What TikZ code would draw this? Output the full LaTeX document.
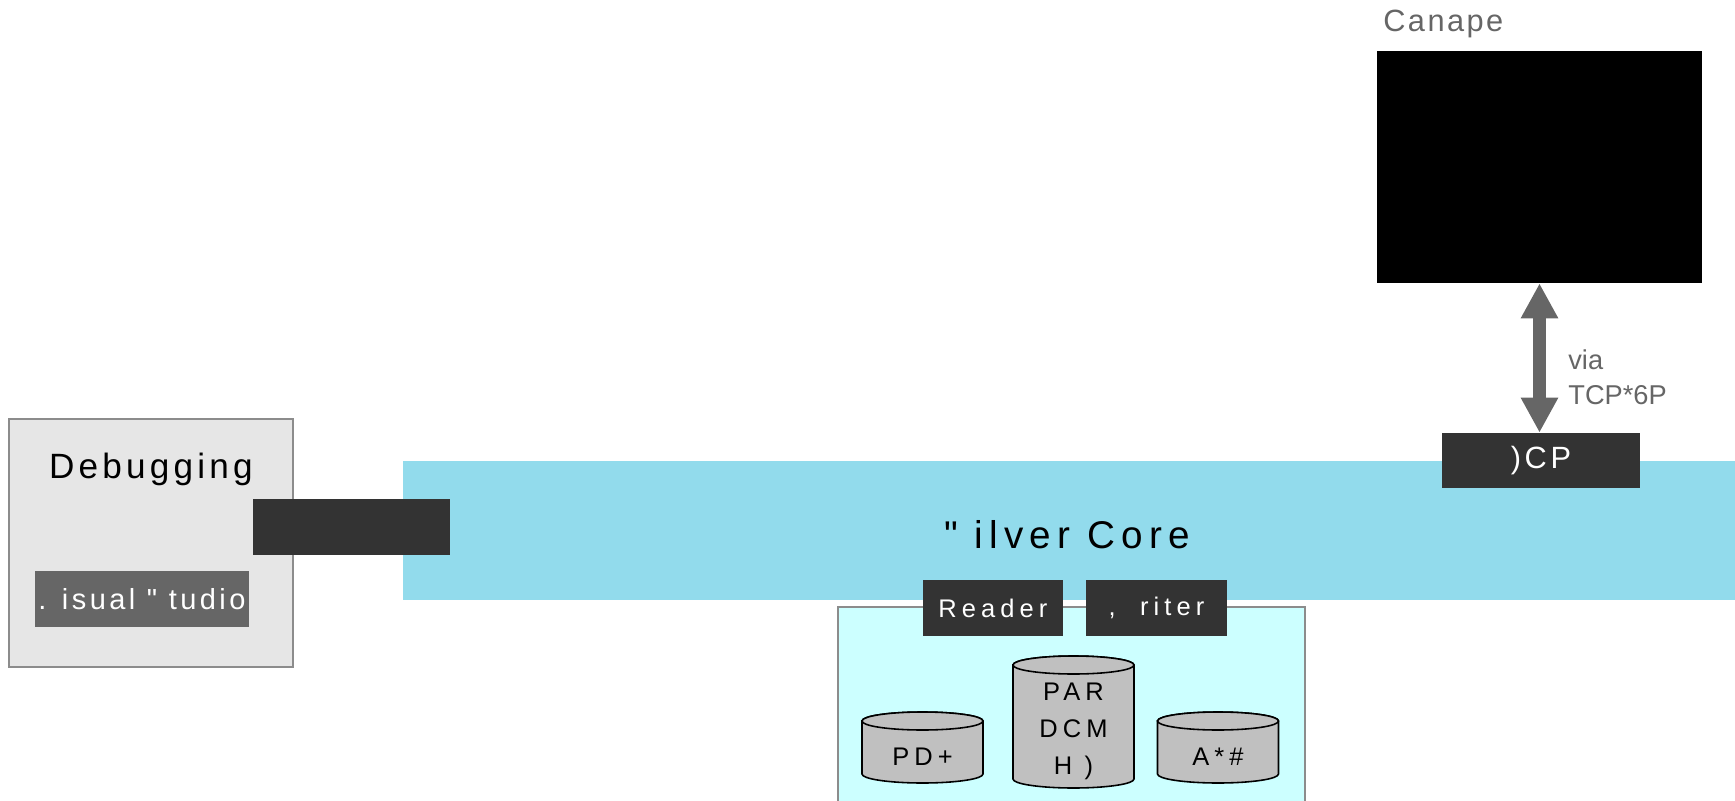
\documentclass[tikz,border=0pt]{standalone}
\usepackage{fontspec}
\setmainfont{Liberation Sans}
\newfontfamily\widefont[LetterSpace=20]{Liberation Sans}
\newfontfamily\corefont[LetterSpace=16]{Liberation Sans}
\newfontfamily\midfont[LetterSpace=12]{Liberation Sans}
\newfontfamily\slightfont[LetterSpace=8]{Liberation Sans}
\usetikzlibrary{arrows.meta}
\definecolor{core}{HTML}{92DBEC}
\definecolor{store}{HTML}{CCFFFF}
\definecolor{tagdark}{HTML}{333333}
\definecolor{greytxt}{HTML}{666666}
\definecolor{panel}{HTML}{E6E6E6}
\definecolor{rim}{HTML}{8C8C8C}
\definecolor{drumfill}{HTML}{C0C0C0}
% drum at (x, y), height in px
\newcommand\drum[3]{%
  \begin{scope}[shift={(#1,#2)}]
    \filldraw [drumline] (-60.5, {-#3/2+9}) -- (-60.5, {#3/2-9})
      arc [start angle=180, end angle=360, x radius=1.21cm, y radius=0.18cm]
      -- (60.5, {-#3/2+9})
      arc [start angle=0, end angle=180, x radius=1.21cm, y radius=0.18cm] -- cycle;
    \filldraw [drumline] (0, {-#3/2+9}) ellipse [x radius=1.21cm, y radius=0.18cm];
  \end{scope}}

\begin{document}
\begin{tikzpicture}[x=0.02cm, y=-0.02cm,
    tag/.style={rectangle, fill=tagdark, text=white, inner sep=0pt, minimum height=1.12cm},
    drumline/.style={fill=drumfill, draw=black, line width=0.9pt},
    drumtext/.style={font=\widefont\fontsize{14.5}{21}\selectfont, align=center}]
    \useasboundingbox (0, 0) rectangle (1735, 801);

    %core band
    \node at (1069, 530.5) [rectangle, fill=core, minimum width=26.64cm, minimum height=2.78cm, inner sep=0pt] (core) {};
    \node at (1067, 535) (corename) {\corefont\fontsize{22}{26}\selectfont "~ilver Core};

    %debugging side
    \node at (151, 543) [rectangle, fill=panel, draw=rim, line width=0.85pt, minimum width=5.68cm, minimum height=4.96cm] (dbg) {};
    \node at (151, 469) (dbgname) {\midfont\fontsize{20}{22}\selectfont Debugging};
    \node at (142, 599) [tag, fill=greytxt, minimum width=4.28cm] (vs) {\midfont\fontsize{16.5}{18}\selectfont . isual " tudio};
    \node at (351.5, 527) [tag, minimum width=3.94cm] (bridge) {};

    %storage below the core
    \node at (1071.5, 718.5) [rectangle, fill=store, draw=rim, line width=0.85pt, minimum width=9.34cm, minimum height=4.46cm] (store) {};
    \node at (993, 608) [tag, minimum width=2.8cm] (reader) {\widefont\fontsize{14.5}{17}\selectfont Reader};
    \node at (1156.5, 608) [tag, minimum width=2.82cm] (writer) {\widefont\fontsize{14.5}{17}\selectfont ,~ riter};

    \drum{922.5}{747.5}{71}
    \drum{1073.5}{722}{132}
    \drum{1218}{747.5}{71}
    \node at (922.5, 757) [drumtext] (pdb) {PD+};
    \node at (1073.5, 731) [drumtext] (par) {PAR\\DCM\\H )};
    \node at (1218, 757) [drumtext] (axd) {A*\#};

    %measurement tool on top
    \node at (1539.5, 167) [rectangle, fill=black, minimum width=6.5cm, minimum height=4.64cm] (canape) {};
    \node at (1383, 24) [anchor=west, inner sep=0pt, text=greytxt] (canapename) {\slightfont\fontsize{17.5}{19}\selectfont Canape};
    \node at (1541, 460.5) [tag, minimum width=3.96cm, minimum height=1.1cm] (xcp) {\midfont\fontsize{17.5}{18}\selectfont )CP};

    \draw [line width=0.26cm, greytxt, {Triangle[length=0.7cm, width=0.7cm]}-{Triangle[length=0.7cm, width=0.7cm]}] (canape.south) -- (canape.south |- xcp.north);
    \node at (1568, 377) [anchor=west, inner sep=0pt, align=left, text=greytxt, font=\fontsize{15.5}{20}\selectfont] (via) {via\\TCP*6P};
\end{tikzpicture}
\end{document}
